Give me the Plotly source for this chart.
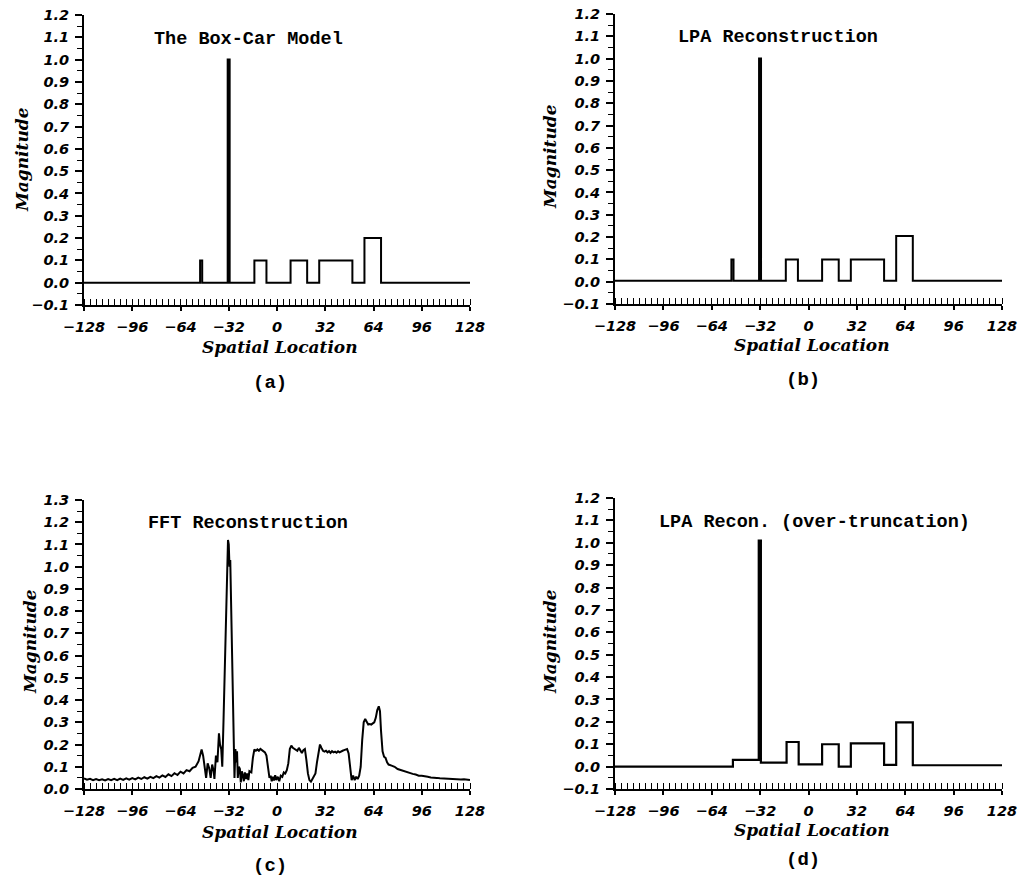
import plotly.graph_objects as go

# ---------------- data ----------------
# (a) box-car model (step function: level holds from edge to next edge)
boxcar_edges = [-128, -51, -49.6, -32.7, -31.4, -15, -7, 9, 20, 28, 50, 58, 69, 128]
boxcar_levels = [0, 0.1, 0, 1.0, 0, 0.1, 0, 0.1, 0, 0.1, 0, 0.2, 0, 0]

# (b) LPA reconstruction
lpa_edges = [-128, -51, -49.6, -32.7, -31.4, -15, -7, 9, 20, 28, 50, 58, 69, 128]
lpa_levels = [0.004, 0.1, 0.004, 1.0, 0.004, 0.1, 0.004, 0.1, 0.004, 0.1, 0.004, 0.205, 0.004, 0.004]

# (c) FFT reconstruction
fft_x = [-128, -126, -124, -122, -120, -118, -116, -114, -112, -110, -108, -106, -104, -102,
         -100, -98, -96, -94, -92, -90, -88, -86, -84, -82, -80, -78, -76, -74, -72, -70,
         -68, -66, -64, -62, -60, -58, -56, -54, -52, -51, -50, -49, -48, -47, -46, -45,
         -44, -43, -42, -41.5, -40.5, -39.5, -38.5, -37.8, -37, -36.3, -35.5, -34.5, -33.5,
         -32.5, -32, -31.5, -31, -30.5, -29.5, -28.8, -28.2, -27.6, -27, -26.5, -26, -25.3,
         -24.6, -24, -23.3, -22.6, -22, -21.3, -20.5, -19.8, -19, -18.3, -17, -16, -15,
         -14, -13, -12, -11, -10, -9, -8, -7, -6, -5, -4.2, -3.5, -2.7, -2, -1.2, -0.5, 0.5,
         1.5, 2.5, 3.5, 4.5, 5.5, 6.5, 7.5, 8.5, 9.5, 10.5, 11.5, 12.5, 13.5, 14.5, 15.5, 16.5,
         17.5, 18.5, 19.5, 20.5, 21.5, 22.5, 23.5, 24.5, 25.5, 26.5, 27.5, 28.5, 29.5, 30.5,
         31.5, 32.5, 33.5, 34.5, 35.5, 36.5, 37.5, 38.5, 39.5, 40.5, 41.5, 42.5, 43.5, 44.5,
         45.5, 46.5, 47.5, 48.5, 49.5, 50.5, 51.5, 52.5, 53.5, 54.5, 55.5, 56.5, 57.5, 58.5,
         59.5, 60.5, 61.5, 62.5, 63.5, 64.5, 65.5, 66.5, 67.5, 68.3, 69, 70, 71, 72, 73, 74,
         76, 78, 80, 82, 84, 86, 88, 90, 92, 94, 96, 98, 100, 102, 104, 106, 108, 110, 112,
         114, 116, 118, 120, 122, 124, 126, 128]
fft_y = [0.048, 0.042, 0.046, 0.040, 0.045, 0.040, 0.044, 0.039, 0.045, 0.040, 0.046, 0.040,
         0.047, 0.041, 0.048, 0.042, 0.049, 0.043, 0.051, 0.045, 0.053, 0.047, 0.055, 0.049,
         0.058, 0.051, 0.061, 0.054, 0.066, 0.058, 0.071, 0.063, 0.078, 0.070, 0.085, 0.080,
         0.095, 0.100, 0.125, 0.160, 0.178, 0.150, 0.095, 0.050, 0.115, 0.095, 0.050, 0.110,
         0.080, 0.045, 0.150, 0.120, 0.250, 0.200, 0.180, 0.100, 0.300, 0.620, 0.900, 1.120,
         1.100, 1.000, 1.030, 0.850, 0.550, 0.300, 0.050, 0.180, 0.120, 0.170, 0.050, 0.100,
         0.090, 0.030, 0.080, 0.060, 0.035, 0.075, 0.045, 0.070, 0.040, 0.080, 0.075, 0.140,
         0.178, 0.172, 0.178, 0.172, 0.180, 0.175, 0.170, 0.165, 0.150, 0.095, 0.050, 0.060,
         0.035, 0.055, 0.038, 0.062, 0.040, 0.055, 0.035, 0.060, 0.055, 0.075, 0.070, 0.085,
         0.115, 0.180, 0.195, 0.185, 0.180, 0.175, 0.172, 0.185, 0.170, 0.162, 0.175, 0.180,
         0.130, 0.070, 0.040, 0.033, 0.045, 0.060, 0.070, 0.120, 0.170, 0.200, 0.185, 0.172,
         0.168, 0.172, 0.165, 0.170, 0.162, 0.170, 0.165, 0.168, 0.163, 0.170, 0.165, 0.170,
         0.172, 0.175, 0.178, 0.180, 0.160, 0.090, 0.040, 0.060, 0.040, 0.055, 0.045, 0.060,
         0.100, 0.220, 0.300, 0.315, 0.300, 0.290, 0.292, 0.290, 0.295, 0.300, 0.320, 0.355,
         0.372, 0.350, 0.260, 0.170, 0.145, 0.140, 0.120, 0.110, 0.105, 0.100, 0.090, 0.085,
         0.080, 0.075, 0.072, 0.068, 0.065, 0.060, 0.060, 0.056, 0.055, 0.052, 0.052, 0.050,
         0.048, 0.047, 0.046, 0.045, 0.046, 0.044, 0.045, 0.043, 0.044, 0.042, 0.040]

# (d) LPA reconstruction with over-truncation
over_edges = [-128, -50, -32.9, -31.5, -14.5, -6.5, 9, 20, 28, 50, 58, 69, 128]
over_levels = [0, 0.03, 1.01, 0.018, 0.11, 0.01, 0.1, 0.0, 0.104, 0.008, 0.198, 0.006, 0.006]

x_ticks = [-128, -96, -64, -32, 0, 32, 64, 96, 128]
x_ticktext = ["\u2212128", "\u221296", "\u221264", "\u221232", "0", "32", "64", "96", "128"]

titles = ["The Box-Car Model", "LPA Reconstruction", "FFT Reconstruction",
          "LPA Recon. (over-truncation)"]
captions = ["(a)", "(b)", "(c)", "(d)"]

# ---------------- layout helpers ----------------
W, H = 1021, 878


def px_x(p):
    return p / W


def px_y(p):
    return 1 - p / H


panels = [
    dict(xl=84, xr=470, yt=15, yb=305, yr=[-0.1, 1.2]),
    dict(xl=615, xr=1002, yt=14, yb=304, yr=[-0.1, 1.2]),
    dict(xl=84, xr=470, yt=500, yb=789, yr=[0.0, 1.3]),
    dict(xl=615, xr=1002, yt=498, yb=789, yr=[-0.1, 1.2]),
]

fig = go.Figure()

series = [
    (boxcar_edges, boxcar_levels, "hv", 2),
    (lpa_edges, lpa_levels, "hv", 2),
    (fft_x, fft_y, "linear", 2),
    (over_edges, over_levels, "hv", 2.2),
]

tick_font = dict(family="DejaVu Sans", size=14.5, color="black", weight="bold", style="italic")
axis_title_font = dict(family="DejaVu Serif", size=17, color="black", style="italic", weight="bold")
title_font = dict(family="Liberation Mono", size=18.5, color="black", weight="bold")
caption_font = dict(family="Liberation Mono", size=19, color="black", weight="bold")

for i, (p, (xs, ys, shape, lw)) in enumerate(zip(panels, series)):
    n = "" if i == 0 else str(i + 1)
    fig.add_trace(go.Scatter(x=xs, y=ys, mode="lines", line=dict(color="black", width=lw, shape=shape),
                             xaxis="x" + n, yaxis="y" + n, showlegend=False, hoverinfo="skip"))
    fig.update_layout(**{
        "xaxis" + n: dict(
            domain=[px_x(p["xl"]), px_x(p["xr"])], anchor="y" + n, range=[-128, 128],
            tickmode="array", tickvals=x_ticks, ticktext=x_ticktext,
            showline=True, linecolor="black", linewidth=2, mirror=False,
            ticks="outside", ticklen=4, tickwidth=1.5, tickcolor="black",
            minor=dict(dtick=4, tick0=-128, ticks="inside", ticklen=6, tickwidth=1.2,
                       tickcolor="black", showgrid=False),
            showgrid=False, zeroline=False, tickfont=tick_font, ticklabelstandoff=4,
            fixedrange=True, automargin=False,
        ),
        "yaxis" + n: dict(
            domain=[px_y(p["yb"]), px_y(p["yt"])], anchor="x" + n, range=p["yr"],
            tickmode="linear", tick0=0, dtick=0.1, tickformat=".1f",
            showline=True, linecolor="black", linewidth=2, mirror=False,
            ticks="outside", ticklen=7, tickwidth=1.5, tickcolor="black",
            minor=dict(dtick=0.05, tick0=0, ticks="outside", ticklen=5, tickwidth=1.2,
                       tickcolor="black", showgrid=False),
            showgrid=False, zeroline=False, tickfont=tick_font, ticklabelstandoff=3,
            fixedrange=True, automargin=False,
        ),
    })

# annotation positions (px)
title_pos = [(248, 40), (778, 38), (248, 523), (814, 522)]
ylab_pos = [(22, 160), (550, 157), (30, 642), (550, 642)]
xlab_pos = [(280, 347), (812, 345), (280, 832), (812, 830)]
cap_pos = [(270, 383), (803, 380), (270, 866), (803, 860)]

annotations = []
for i in range(4):
    annotations.append(dict(text=titles[i], x=px_x(title_pos[i][0]), y=px_y(title_pos[i][1]),
                            xref="paper", yref="paper", showarrow=False, font=title_font,
                            xanchor="center", yanchor="middle"))
    annotations.append(dict(text="Magnitude", x=px_x(ylab_pos[i][0]), y=px_y(ylab_pos[i][1]),
                            xref="paper", yref="paper", showarrow=False, font=axis_title_font,
                            textangle=-90, xanchor="center", yanchor="middle"))
    annotations.append(dict(text="Spatial Location", x=px_x(xlab_pos[i][0]), y=px_y(xlab_pos[i][1]),
                            xref="paper", yref="paper", showarrow=False, font=axis_title_font,
                            xanchor="center", yanchor="middle"))
    annotations.append(dict(text=captions[i], x=px_x(cap_pos[i][0]), y=px_y(cap_pos[i][1]),
                            xref="paper", yref="paper", showarrow=False, font=caption_font,
                            xanchor="center", yanchor="middle"))

fig.update_layout(
    width=W, height=H, autosize=False,
    margin=dict(l=0, r=0, t=0, b=0, pad=0, autoexpand=False),
    paper_bgcolor="white", plot_bgcolor="white",
    annotations=annotations, showlegend=False,
)

fig.write_html(
    "out.html",
    config={"displayModeBar": False, "responsive": False},
    post_script="document.body.style.margin='0';document.body.style.overflow='hidden';",
)
